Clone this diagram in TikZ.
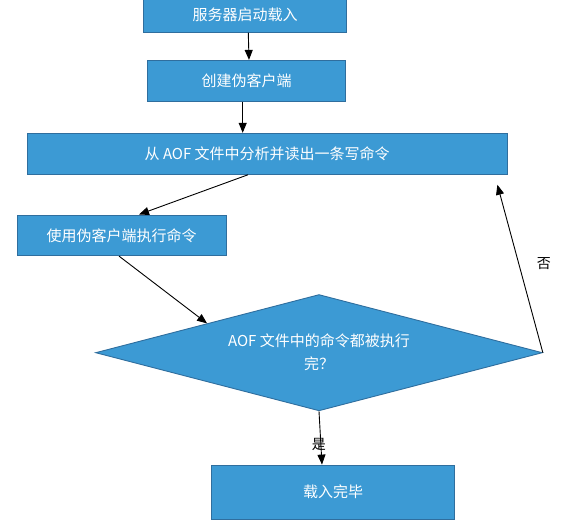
\documentclass[tikz,border=0pt]{standalone}
\usepackage{fontspec}
\setmainfont{Noto Sans CJK SC}
\usetikzlibrary{shapes.geometric,arrows.meta}
\definecolor{boxfill}{HTML}{3C9AD4}
\definecolor{boxline}{HTML}{2F6E9E}
\tikzset{
  x=1pt,y=-1pt,
  stepbox/.style={rectangle,draw=boxline,fill=boxfill,line width=0.9pt,inner sep=0pt,
    text=white,font=\fontsize{15}{23}\selectfont},
  decision/.style={diamond,aspect=3.84,draw=boxline,fill=boxfill,line width=0.9pt,inner sep=0pt,
    text=white,align=center,font=\fontsize{15}{23}\selectfont},
  arr/.style={-{Triangle[length=10pt,width=8pt]},line width=0.9pt,black},
  lbl/.style={font=\fontsize{14}{16}\selectfont,text=black,inner sep=0pt},
}
\begin{document}
\begin{tikzpicture}
\useasboundingbox (0,0) rectangle (566,522);
\node[stepbox,minimum width=203pt,minimum height=34.3pt] (b1) at (245,15.15) {服务器启动载入};
\node[stepbox,minimum width=198.4pt,minimum height=40.7pt] (b2) at (246.5,80.7) {创建伪客户端};
\node[stepbox,minimum width=479.5pt,minimum height=41pt] (b3) at (267.2,153.8) {从 AOF 文件中分析并读出一条写命令};
\node[stepbox,minimum width=208.7pt,minimum height=40.7pt] (b4) at (121.7,235.3) {使用伪客户端执行命令};
\node[decision,minimum width=446.8pt,minimum height=116.3pt] (d) at (319,352.7) {AOF 文件中的命令都被执行\\完？};
\node[stepbox,minimum width=243.4pt,minimum height=54.3pt] (b6) at (333,492.2) {载入完毕};

\draw[arr] ([xshift=3.3pt]b1.south) -- ([xshift=2.5pt]b2.north);
\draw[arr] ([xshift=-3.8pt]b2.south) -- ([xshift=-24.5pt]b3.north);
\draw[arr] ([xshift=-19.2pt]b3.south) -- ([xshift=17.3pt]b4.north);
\draw[arr] ([xshift=-2.7pt]b4.south) -- (d.north west);
\draw[arr] (d.south) -- ([xshift=-11pt]b6.north)
  node[lbl,pos=0.63,xshift=-2pt] (yes) {是};
\coordinate (back) at ([xshift=-10pt,yshift=-10pt]b3.south east);
\draw[arr] (d.east) -- (back)
  node[lbl,pos=0.53,xshift=25pt] (no) {否};
\end{tikzpicture}
\end{document}
